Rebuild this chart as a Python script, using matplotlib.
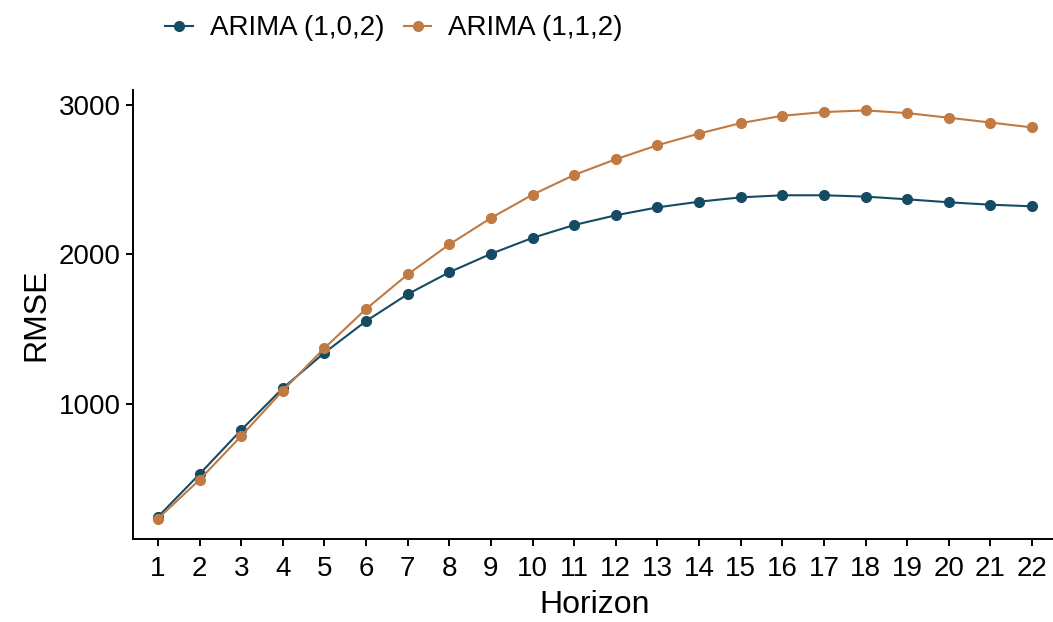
import numpy as np
import matplotlib
matplotlib.use("Agg")
import matplotlib.pyplot as plt

# ────────────────────────────────────────────────────────────────
# DATA
# ────────────────────────────────────────────────────────────────
horizon = list(range(1, 23))
rmse_102 = [244, 530, 825, 1105, 1342, 1554, 1734, 1881, 2004, 2111, 2197,
            2262, 2315, 2353, 2382, 2396, 2396, 2387, 2369, 2349, 2333, 2322]
rmse_112 = [232, 492, 785, 1089, 1373, 1635, 1866, 2067, 2244, 2400, 2532,
            2637, 2731, 2809, 2879, 2928, 2953, 2964, 2946, 2915, 2883, 2850]
labels = ["ARIMA (1,0,2)", "ARIMA (1,1,2)"]
colors = ["#154B64", "#C07A42"]
y_ticks = [1000, 2000, 3000]

# ────────────────────────────────────────────────────────────────
# PLOT
# ────────────────────────────────────────────────────────────────
plt.rcParams["font.family"] = ["Liberation Sans", "DejaVu Sans"]

fig = plt.figure(figsize=(10.53, 6.22), dpi=100)
ax = fig.add_axes([133 / 1053, 1 - 539 / 622, (1057 - 133) / 1053, (539 - 90) / 622])

for vals, lab, col in zip([rmse_102, rmse_112], labels, colors):
    ax.plot(horizon, vals, "-o", color=col, linewidth=1.5, markersize=7, label=lab)

allv = rmse_102 + rmse_112
span = max(allv) - min(allv)
ax.set_ylim(min(allv) - 0.05 * span, max(allv) + 0.05 * span)
ax.set_xlim(0.4, 22.6)
ax.set_xticks(horizon)
ax.set_yticks(y_ticks)

for s in ["top", "right"]:
    ax.spines[s].set_visible(False)
for s in ["left", "bottom"]:
    ax.spines[s].set_linewidth(1.4)
ax.tick_params(axis="x", direction="out", length=5, width=1.4, labelsize=20,
               colors="black", pad=7)
ax.tick_params(axis="y", direction="out", length=5, width=1.4, labelsize=20,
               colors="black", pad=4)

ax.set_xlabel("Horizon", fontsize=23, labelpad=6)
ax.set_ylabel("RMSE", fontsize=23, labelpad=5)

fig.legend(loc="upper left", bbox_to_anchor=(150 / 1053, 1.0), ncol=2, frameon=False,
           fontsize=20, handlelength=1.0, handletextpad=0.6, columnspacing=0.7,
           borderaxespad=0.15)

plt.savefig("out.png", dpi=100)
plt.close()
